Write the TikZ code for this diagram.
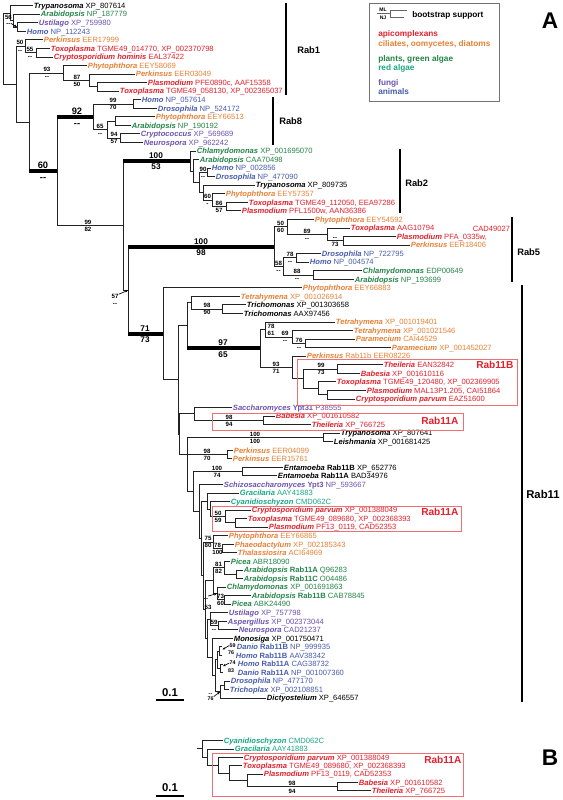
\documentclass[tikz,border=0pt]{standalone}
\usepackage{fontspec}
\setmainfont{Liberation Sans}
\usetikzlibrary{arrows.meta}
\definecolor{apic}{RGB}{228,32,44}
\definecolor{cil}{RGB}{232,128,52}
\definecolor{pla}{RGB}{36,132,72}
\definecolor{ral}{RGB}{24,168,128}
\definecolor{fun}{RGB}{108,82,176}
\definecolor{ani}{RGB}{72,92,172}
\definecolor{boxr}{RGB}{238,112,112}
\definecolor{brc}{RGB}{35,35,35}
\newcount\bsn
\def\bsgap{0.8pt}
\newcommand\Y[1]{5.7+8.55*(#1)}
\newcommand\YB[1]{740.7+8.35*(#1)}
\newcommand\G[1]{\textbf{\textit{#1}}}
\newcommand\Lf[6]{\node[leaf,text=#2] (#1) at (#3,{\Y{#4}}) {\G{#5} #6};}
\newcommand\LfB[6]{\node[leaf,text=#2] (#1) at (#3,{\YB{#4}}) {\G{#5} #6};}
\newcommand\Nd[3]{\coordinate (#1) at (#2,{\Y{#3}});}
\newcommand\NdB[3]{\coordinate (#1) at (#2,{\YB{#3}});}
\newcommand\E[2]{\draw[br] (#1) |- (#2);}
\newcommand\TE[2]{\draw[br] (#1) |- (#2); \draw[thk] (#2 -| #1) -- (#2);}
\newcommand\BS[5]{\global\advance\bsn by 1\relax
  \node[bsl,#5,anchor=south,yshift=\bsgap] (ba\the\bsn) at (#1,{\Y{#2}}) {#3};
  \node[bsl,#5,anchor=north,yshift=-\bsgap] (bb\the\bsn) at (#1,{\Y{#2}}) {#4};}
\newcommand\BA[5]{\node[bsl,#5] (#1) at (#2,#3) {#4};}
\tikzset{
  br/.style={draw=brc, line width=0.75pt},
  thk/.style={draw=black, line width=3pt},
  leaf/.style={anchor=west, inner xsep=0.7pt, inner ysep=0pt, outer sep=0pt,
    text height=4.1pt, text depth=0pt, font=\fontsize{5.7}{6}\selectfont},
  bsgap/.store in=\bsgap,
  bsl/.style={inner sep=0pt, text height=3.3pt, text depth=0pt,
    font=\fontsize{4.6}{5}\selectfont\bfseries},
  bsm/.style={text height=4.5pt, font=\fontsize{6.2}{7}\selectfont\bfseries},
  bsbig/.style={text height=5pt, font=\fontsize{7}{8}\selectfont\bfseries},
  bst/.style={text height=2.9pt, font=\fontsize{4}{4}\selectfont\bfseries},
  rab/.style={anchor=west, inner sep=0pt, font=\fontsize{7}{8}\selectfont\bfseries},
  bar/.style={line width=1.5pt},
  clbox/.style={draw=boxr, line width=0.6pt},
  boxlab/.style={anchor=west, inner sep=0pt, text=apic, font=\fontsize{7.6}{8}\selectfont\bfseries},
  ptr/.style={line width=0.5pt, -{Stealth[length=2.2pt,width=1.8pt]}},
  leg/.style={anchor=west, inner sep=0pt, font=\fontsize{6.2}{7}\selectfont\bfseries},
  legl/.style={draw=black!60, line width=0.6pt},
  big/.style={inner sep=0pt, font=\fontsize{17}{17}\selectfont\bfseries},
}
\begin{document}
\begin{tikzpicture}[x=0.75pt,y=-0.75pt]
\useasboundingbox[fill=white] (0,0) rectangle (563,800);

% ---------------- leaves A ----------------
\Lf{l0}{black}{33}{0}{Trypanosoma}{XP\_807614}
\Lf{l1}{pla}{40}{1}{Arabidopsis}{NP\_187779}
\Lf{l2}{fun}{38}{2}{Ustilago}{XP\_759980}
\Lf{l3}{ani}{26}{3}{Homo}{NP\_112243}
\Lf{l4}{cil}{43}{4}{Perkinsus}{EER17999}
\Lf{l5}{apic}{50}{5}{Toxoplasma}{TGME49\_014770, XP\_002370798}
\Lf{l6}{apic}{53}{6}{Cryptosporidium hominis}{EAL37422}
\Lf{l7}{cil}{87}{7}{Phytophthora}{EEY58069}
\Lf{l8}{cil}{135}{8}{Perkinsus}{EER03049}
\Lf{l9}{apic}{147}{9}{Plasmodium}{PFE0890c, AAF15358}
\Lf{l10}{apic}{119}{10}{Toxoplasma}{TGME49\_058130, XP\_002365037}
\Lf{l11}{ani}{141}{11}{Homo}{NP\_057614}
\Lf{l12}{ani}{157}{12}{Drosophila}{NP\_524172}
\Lf{l13}{cil}{155}{13}{Phytophthora}{EEY66513}
\Lf{l14}{pla}{131}{14}{Arabidopsis}{NP\_190192}
\Lf{l15}{fun}{140}{15}{Cryptococcus}{XP\_569689}
\Lf{l16}{fun}{143}{16}{Neurospora}{XP\_962242}
\Lf{l17}{pla}{196}{17}{Chlamydomonas}{XP\_001695070}
\Lf{l18}{pla}{199}{18}{Arabidopsis}{CAA70498}
\Lf{l19}{ani}{211}{19}{Homo}{NP\_002856}
\Lf{l20}{ani}{215}{20}{Drosophila}{NP\_477090}
\Lf{l21}{black}{255}{21}{Trypanosoma}{XP\_809735}
\Lf{l22}{cil}{225}{22}{Phytophthora}{EEY57357}
\Lf{l23}{apic}{248}{23}{Toxoplasma}{TGME49\_112050, EEA97286}
\Lf{l24}{apic}{241}{24}{Plasmodium}{PFL1500w, AAN36386}
\Lf{l25}{cil}{314}{25}{Phytophthora}{EEY54592}
\Lf{l26}{apic}{350}{26}{Toxoplasma}{AAG10794}
\Lf{l27}{apic}{396}{27}{Plasmodium}{PFA\_0335w,}
\node[leaf,text=apic] (cad) at (472,{\Y{26.1}}) {CAD49027};
\Lf{l28}{cil}{410}{28}{Perkinsus}{EER18406}
\Lf{l29}{ani}{321}{29}{Drosophila}{NP\_722795}
\Lf{l30}{ani}{309}{30}{Homo}{NP\_004574}
\Lf{l31}{pla}{362}{31}{Chlamydomonas}{EDP00649}
\Lf{l32}{pla}{354}{32}{Arabidopsis}{NP\_193699}
\Lf{l33}{cil}{302}{33}{Phytophthora}{EEY66883}
\Lf{l34}{cil}{240}{34}{Tetrahymena}{XP\_001026914}
\Lf{l35}{black}{246}{35}{Trichomonas}{XP\_001303658}
\Lf{l36}{black}{243}{36}{Trichomonas}{AAX97456}
\Lf{l37}{cil}{335}{37}{Tetrahymena}{XP\_001019401}
\Lf{l38}{cil}{353}{38}{Tetrahymena}{XP\_001021546}
\Lf{l39}{cil}{355}{39}{Paramecium}{CAI44529}
\Lf{l40}{cil}{391}{40}{Paramecium}{XP\_001452027}
\Lf{l41}{cil}{306}{41}{Perkinsus}{Rab11b EER08226}
\Lf{l42}{apic}{383}{42}{Theileria}{EAN32842}
\Lf{l43}{apic}{360}{43}{Babesia}{XP\_001610116}
\Lf{l44}{apic}{336}{44}{Toxoplasma}{TGME49\_120480, XP\_002369905}
\Lf{l45}{apic}{366}{45}{Plasmodium}{MAL13P1.205, CAI51864}
\Lf{l46}{apic}{355}{46}{Cryptosporidium parvum}{EAZ51600}
\Lf{l47}{fun}{232}{47}{Saccharomyces}{\textbf{Ypt31} P38555}
\Lf{l48}{apic}{275}{48}{Babesia}{XP\_001610582}
\Lf{l49}{apic}{311}{49}{Theileria}{XP\_766725}
\Lf{l50}{black}{340}{50}{Trypanosoma}{XP\_807641}
\Lf{l51}{black}{333}{51}{Leishmania}{XP\_001681425}
\Lf{l52}{cil}{233}{52}{Perkinsus}{EER04099}
\Lf{l53}{cil}{232}{53}{Perkinsus}{EER15761}
\Lf{l54}{black}{283}{54}{Entamoeba}{\textbf{Rab11B} XP\_652776}
\Lf{l55}{black}{277}{55}{Entamoeba}{\textbf{Rab11A} BAD34976}
\Lf{l56}{fun}{223}{56}{Schizosaccharomyces}{\textbf{Ypt3} NP\_593667}
\Lf{l57}{ral}{239}{57}{Gracilaria}{AAY41883}
\Lf{l58}{ral}{230}{58}{Cyanidioschyzon}{CMD062C}
\Lf{l59}{apic}{251}{59}{Cryptosporidium parvum}{XP\_001388049}
\Lf{l60}{apic}{247}{60}{Toxoplasma}{TGME49\_089680, XP\_002368393}
\Lf{l61}{apic}{268}{61}{Plasmodium}{PF13\_0119, CAD52353}
\Lf{l62}{cil}{228}{62}{Phytophthora}{EEY66865}
\Lf{l63}{cil}{234}{63}{Phaeodactylum}{XP\_002185343}
\Lf{l64}{cil}{237}{64}{Thalassiosira}{ACI64969}
\Lf{l65}{pla}{230}{65}{Picea}{ABR18090}
\Lf{l66}{pla}{243}{66}{Arabidopsis}{\textbf{Rab11A} Q96283}
\Lf{l67}{pla}{243}{67}{Arabidopsis}{\textbf{Rab11C} O04486}
\Lf{l68}{pla}{226}{68}{Chlamydomonas}{XP\_001691863}
\Lf{l69}{pla}{251}{69}{Arabidopsis}{\textbf{Rab11B} CAB78845}
\Lf{l70}{pla}{231}{70}{Picea}{ABK24490}
\Lf{l71}{fun}{228}{71}{Ustilago}{XP\_757798}
\Lf{l72}{fun}{227}{72}{Aspergillus}{XP\_002373044}
\Lf{l73}{fun}{238}{73}{Neurospora}{CAD21237}
\Lf{l74}{black}{233}{74}{Monosiga}{XP\_001750471}
\Lf{l75}{ani}{236}{75}{Danio}{\textbf{Rab11B} NP\_999935}
\Lf{l76}{ani}{235}{76}{Homo}{\textbf{Rab11B} AAV38342}
\Lf{l77}{ani}{237}{77}{Homo}{\textbf{Rab11A} CAG38732}
\Lf{l78}{ani}{237}{78}{Danio}{\textbf{Rab11A} NP\_001007360}
\Lf{l79}{ani}{230}{79}{Drosophila}{NP\_477170}
\Lf{l80}{ani}{229}{80}{Trichoplax}{XP\_002108851}
\Lf{l81}{black}{266}{81}{Dictyostelium}{XP\_646557}

% ---------------- internal nodes A ----------------
\Nd{nR}{3}{5.03}
\Nd{nT}{10}{0.875}
\Nd{n1}{13}{1.75}
\Nd{n56}{17}{2.5}
\Nd{nY}{16}{9.19}
\Nd{n50}{25}{4.75}
\Nd{n55}{36}{5.5}
\Nd{n29}{29}{13.62}
\Nd{n93}{63}{7.875}
\Nd{n87}{89}{8.75}
\Nd{nPT}{97}{9.5}
\Nd{n57}{57}{19.37}
\Nd{n92}{93}{13}
\Nd{n99}{133}{11.5}
\Nd{n65}{107}{14.5}
\Nd{nPA}{115}{13.5}
\Nd{n94}{120}{15.5}
\Nd{n123}{123}{25.73}
\Nd{n190}{190}{18.17}
\Nd{nAr2}{193}{19.34}
\Nd{nB}{199}{20.69}
\Nd{n90}{207}{19.5}
\Nd{nC}{203}{21.875}
\Nd{n60}{212}{22.75}
\Nd{n86}{226}{23.5}
\Nd{n128}{128}{33.29}
\Nd{n274}{274}{28.19}
\Nd{nP}{287}{25.875}
\Nd{n89}{327}{26.75}
\Nd{nQ}{343}{27.5}
\Nd{n58}{283}{30.5}
\Nd{n78}{296}{29.5}
\Nd{n88}{313}{31.5}
\Nd{n163}{163}{38.385}
\Nd{n178}{178}{43.77}
\Nd{n187}{187}{37.42}
\Nd{nTT}{191}{34.75}
\Nd{nTr}{222}{35.5}
\Nd{n260}{260}{40.09}
\Nd{n78b}{265}{37.875}
\Nd{n69}{292}{38.75}
\Nd{n76}{305}{39.5}
\Nd{n93b}{292}{42.31}
\Nd{nA1}{303}{43.625}
\Nd{n99b}{337}{42.5}
\Nd{nB1}{318}{44.75}
\Nd{nC1}{327}{45.5}
\Nd{n179}{179}{50.125}
\Nd{n194}{194}{47.75}
\Nd{n98b}{263}{48.5}
\Nd{n187c}{187}{52.5}
\Nd{n100t}{323}{50.5}
\Nd{n98p}{227}{52.5}
\Nd{nK5}{193}{56.83}
\Nd{n100e}{242}{54.5}
\Nd{nK4}{199}{59.16}
\Nd{nK3}{201}{62.31}
\Nd{nG}{207}{57.94}
\Nd{n210}{210}{58.875}
\Nd{n225}{225}{59.75}
\Nd{n235}{235}{60.5}
\Nd{nK2}{203}{66.68}
\Nd{n75}{213}{62.75}
\Nd{n78d}{222}{63.5}
\Nd{nK1}{205}{70.61}
\Nd{nPl}{213}{67.25}
\Nd{n81}{224}{65.75}
\Nd{nAr}{236}{66.5}
\Nd{nCh}{217}{68.75}
\Nd{n73}{224}{69.5}
\Nd{nOpi}{207}{73.97}
\Nd{nFu}{210}{71.75}
\Nd{nAN}{218}{72.5}
\Nd{nHol}{212}{76.19}
\Nd{nMet}{215}{78.375}
\Nd{nV}{217}{76.5}
\Nd{nDH}{219}{75.5}
\Nd{nHD}{220}{77.5}
\Nd{n76b}{220}{80.25}
\Nd{nDT}{224}{79.5}
\Nd{t75}{222}{75}
\Nd{t76}{222}{76}
\Nd{t77}{222.5}{77}
\Nd{t78}{222.5}{78}
\Nd{a75}{222.5}{75.3}
\Nd{a77}{223}{77.25}

% ---------------- branches A ----------------
\E{nR}{nT} \E{nR}{nY}
\E{nT}{l0.west} \E{nT}{n1}
\E{n1}{l1.west} \E{n1}{n56}
\E{n56}{l2.west} \E{n56}{l3.west}
\E{nY}{n50} \E{nY}{n29}
\E{n50}{l4.west} \E{n50}{n55}
\E{n55}{l5.west} \E{n55}{l6.west}
\E{n29}{n93} \TE{n29}{n57}
\E{n93}{l7.west} \E{n93}{n87}
\E{n87}{l8.west} \E{n87}{nPT}
\E{nPT}{l9.west} \E{nPT}{l10.west}
\TE{n57}{n92} \E{n57}{n123}
\E{n92}{n99} \E{n92}{n65}
\E{n99}{l11.west} \E{n99}{l12.west}
\E{n65}{nPA} \E{n65}{n94}
\E{nPA}{l13.west} \E{nPA}{l14.west}
\E{n94}{l15.west} \E{n94}{l16.west}
\TE{n123}{n190} \E{n123}{n128}
\E{n190}{l17.west} \E{n190}{nAr2}
\E{nAr2}{l18.west} \E{nAr2}{nB}
\E{nB}{n90} \E{nB}{nC}
\E{n90}{l19.west} \E{n90}{l20.west}
\E{nC}{l21.west} \E{nC}{n60}
\E{n60}{l22.west} \E{n60}{n86}
\E{n86}{l23.west} \E{n86}{l24.west}
\TE{n128}{n274} \TE{n128}{n163}
\E{n274}{nP} \E{n274}{n58}
\E{nP}{l25.west} \E{nP}{n89}
\E{n89}{l26.west} \E{n89}{nQ}
\E{nQ}{l27.west} \E{nQ}{l28.west}
\E{n58}{n78} \E{n58}{n88}
\E{n78}{l29.west} \E{n78}{l30.west}
\E{n88}{l31.west} \E{n88}{l32.west}
\E{n163}{l33.west} \E{n163}{n178}
\E{n178}{n187} \E{n178}{n179}
\E{n187}{nTT} \TE{n187}{n260}
\E{nTT}{l34.west} \E{nTT}{nTr}
\E{nTr}{l35.west} \E{nTr}{l36.west}
\E{n260}{n78b} \E{n260}{n93b}
\E{n78b}{l37.west} \E{n78b}{n69}
\E{n69}{l38.west} \E{n69}{n76}
\E{n76}{l39.west} \E{n76}{l40.west}
\E{n93b}{l41.west} \E{n93b}{nA1}
\E{nA1}{n99b} \E{nA1}{nB1}
\E{n99b}{l42.west} \E{n99b}{l43.west}
\E{nB1}{l44.west} \E{nB1}{nC1}
\E{nC1}{l45.west} \E{nC1}{l46.west}
\E{n179}{n194} \E{n179}{n187c}
\E{n194}{l47.west} \E{n194}{n98b}
\E{n98b}{l48.west} \E{n98b}{l49.west}
\E{n187c}{n100t} \E{n187c}{n98p} \E{n187c}{nK5}
\E{n100t}{l50.west} \E{n100t}{l51.west}
\E{n98p}{l52.west} \E{n98p}{l53.west}
\E{nK5}{n100e} \E{nK5}{nK4}
\E{n100e}{l54.west} \E{n100e}{l55.west}
\E{nK4}{l56.west} \E{nK4}{nK3}
\E{nK3}{nG} \E{nK3}{nK2}
\E{nG}{l57.west} \E{nG}{n210}
\E{n210}{l58.west} \E{n210}{n225}
\E{n225}{l59.west} \E{n225}{n235}
\E{n235}{l60.west} \E{n235}{l61.west}
\E{nK2}{n75} \E{nK2}{nK1}
\E{n75}{l62.west} \E{n75}{n78d}
\E{n78d}{l63.west} \E{n78d}{l64.west}
\E{nK1}{nPl} \E{nK1}{nOpi}
\E{nPl}{n81} \E{nPl}{nCh}
\E{n81}{l65.west} \E{n81}{nAr}
\E{nAr}{l66.west} \E{nAr}{l67.west}
\E{nCh}{l68.west} \E{nCh}{n73}
\E{n73}{l69.west} \E{n73}{l70.west}
\E{nOpi}{nFu} \E{nOpi}{nHol}
\E{nFu}{l71.west} \E{nFu}{nAN}
\E{nAN}{l72.west} \E{nAN}{l73.west}
\E{nHol}{l74.west} \E{nHol}{nMet}
\E{nMet}{nV} \E{nMet}{n76b}
\E{nV}{nDH} \E{nV}{nHD}
\E{nDH}{t75} \E{nDH}{t76}
\E{nHD}{t77} \E{nHD}{t78}
\E{n76b}{nDT} \E{n76b}{l81.west}
\E{nDT}{l79.west} \E{nDT}{l80.west}

% ---------------- bootstrap labels A ----------------
\BA{s56a}{8.5}{16.8}{56}{}
\BA{s56b}{8.5}{23.3}{-{}-}{}
\draw[ptr] (s56b.east) -- (n56);
\BS{20}{4.75}{50}{-{}-}{}
\BS{30}{5.5}{55}{-{}-}{}
\BS{47}{7.875}{93}{-{}-}{}
\BS{77}{8.75}{87}{50}{}
\BS{77}{13}{92}{-{}-}{bsbig,bsgap=1.8pt}
\BS{113}{11.5}{99}{70}{}
\BS{100}{14.5}{65}{-{}-}{}
\BS{114}{15.5}{94}{57}{}
\BS{43}{19.37}{60}{-{}-}{bsbig,bsgap=1.8pt}
\BS{88}{25.73}{99}{82}{}
\BS{156}{18.17}{100}{53}{bsm,bsgap=1.8pt}
\BS{203}{19.5}{90}{-{}-}{}
\BS{207.5}{22.75}{60}{-}{}
\BS{219}{23.5}{86}{57}{}
\BS{201}{28.19}{100}{98}{bsm,bsgap=1.8pt}
\BS{280.5}{25.875}{50}{60}{}
\BS{307}{26.75}{89}{-{}-}{}
\BS{335}{27.5}{-{}-}{73}{}
\BS{290}{29.5}{78}{-{}-}{}
\BS{278.5}{30.5}{58}{-{}-}{}
\BS{297}{31.5}{88}{-{}-}{}
\BA{s57a}{115}{296.7}{57}{}
\BA{s57b}{115}{303.3}{-{}-}{}
\draw[ptr] (s57a.north east) -- (n128);
\BS{145}{38.385}{71}{73}{bsm,bsgap=1.8pt}
\BS{207}{35.5}{98}{90}{}
\BS{223}{40.09}{97}{65}{bsm,bsgap=1.8pt}
\BS{271}{37.875}{78}{61}{}
\BS{285}{38.75}{69}{-{}-}{}
\BS{299}{39.5}{76}{-{}-}{}
\BS{276}{42.31}{93}{71}{}
\BS{321}{42.5}{99}{73}{}
\BS{229}{48.5}{98}{94}{}
\BS{255}{50.5}{100}{100}{}
\BS{207}{52.5}{98}{70}{}
\BS{217}{54.5}{100}{74}{}
\BS{218}{59.75}{50}{59}{}
\BS{208}{62.75}{75}{80}{}
\BS{217.5}{63.5}{78}{100}{}
\BS{218.5}{65.75}{81}{82}{}
\BS{220.5}{69.5}{73}{60}{}
\BA{s53a}{206}{598.5}{-{}-}{}
\BA{s53b}{208}{607}{53}{}
\draw[ptr] (s53a.north east) -- (nCh);
\BS{214}{72.5}{59}{-{}-}{}
\BA{s59a}{232.5}{645.5}{59}{bst}
\BA{s59b}{231}{653}{76}{bst}
\draw[ptr] (s59a.west) -- (a75);
\BA{s74a}{232.5}{663}{74}{bst}
\BA{s74b}{231}{670.5}{83}{bst}
\draw[ptr] (s74a.west) -- (a77);
\BA{s76a}{210.5}{693.3}{-{}-}{bst}
\BA{s76b}{210.5}{698.8}{76}{bst}
\draw[ptr] (s76b.north east) -- (n76b);

% ---------------- clade boxes ----------------
\draw[clbox] (297,359.3) rectangle (517,405);
\node[boxlab] (b11b) at (476,{\Y{41.95}}) {Rab11B};
\draw[clbox] (212,413.3) rectangle (463,430);
\node[boxlab] (b11a1) at (421,421) {Rab11A};
\draw[clbox] (212,506.7) rectangle (461,531);
\node[boxlab] (b11a2) at (421,512) {Rab11A};

% ---------------- Rab bars ----------------
\draw[bar] (286,3) -- (286,95);   \node[rab] (r1) at (297,50) {Rab1};
\draw[bar] (273,97) -- (273,145); \node[rab] (r8) at (279,121) {Rab8};
\draw[bar] (400,149) -- (400,213); \node[rab] (r2) at (405,183) {Rab2};
\draw[bar] (512,217) -- (512,282); \node[rab] (r5) at (517,252) {Rab5};
\draw[bar] (522,285) -- (522,701.7);
\node[rab,font=\fontsize{8.5}{9}\selectfont\bfseries] (r11) at (526,494) {Rab11};

% ---------------- legend ----------------
\draw[draw=black!55, line width=0.6pt] (369,3.3) rectangle (499,101);
\node[inner sep=0pt, font=\fontsize{3.8}{4}\selectfont\bfseries] (ml) at (383,9.6) {ML};
\node[inner sep=0pt, font=\fontsize{3.8}{4}\selectfont\bfseries] (nj) at (383,18.2) {NJ};
\draw[legl] (377,13.8) -- (390,13.8);
\draw[legl] (407,10) -- (390,10) -- (390,17.4) -- (404,17.4);
\node[leg] (bsup) at (412,15.3) {bootstrap support};
\node[leg,text=apic] (g1) at (378,34) {apicomplexans};
\node[leg,text=cil] (g2) at (378,44) {ciliates, oomycetes, diatoms};
\node[leg,text=pla] (g3) at (378,59) {plants, green algae};
\node[leg,text=ral] (g4) at (378,68.7) {red algae};
\node[leg,text=fun] (g5) at (378,83.3) {fungi};
\node[leg,text=ani] (g6) at (378,92) {animals};
\node[big] (pA) at (550,21) {A};

% ---------------- scale A ----------------
\draw[line width=1.5pt] (156,700) -- (184,700);
\node[inner sep=0pt, font=\fontsize{8.5}{9}\selectfont\bfseries] (scA) at (170,692.2) {0.1};

% ---------------- panel B ----------------
\LfB{m0}{ral}{223}{0}{Cyanidioschyzon}{CMD062C}
\LfB{m1}{ral}{234}{1}{Gracilaria}{AAY41883}
\LfB{m2}{apic}{243}{2}{Cryptosporidium parvum}{XP\_001388049}
\LfB{m3}{apic}{242}{3}{Toxoplasma}{TGME49\_089680, XP\_002368393}
\LfB{m4}{apic}{263}{4}{Plasmodium}{PF13\_0119, CAD52353}
\LfB{m5}{apic}{358}{5}{Babesia}{XP\_001610582}
\LfB{m6}{apic}{371}{6}{Theileria}{XP\_766725}
\NdB{stubB}{197}{0.985}
\NdB{nB0}{202}{0.985}
\NdB{nB1}{207}{1.97}
\NdB{nB2}{218}{2.94}
\NdB{nB3}{229}{3.875}
\NdB{nB4}{247}{4.75}
\NdB{nBT}{337}{5.5}
\draw[br] (stubB) -- (nB0);
\E{nB0}{m0.west} \E{nB0}{nB1}
\E{nB1}{m1.west} \E{nB1}{nB2}
\E{nB2}{m2.west} \E{nB2}{nB3}
\E{nB3}{m3.west} \E{nB3}{nB4}
\E{nB4}{m4.west} \E{nB4}{nBT}
\E{nBT}{m5.west} \E{nBT}{m6.west}
\BA{sb98}{292}{783.6}{98}{}
\BA{sb94}{292}{791.2}{94}{}
\draw[clbox] (212,753.3) rectangle (463,796.7);
\node[boxlab] (b11aB) at (424,760) {Rab11A};
\node[big] (pB) at (550,758) {B};
\draw[line width=1.5pt] (156,795.7) -- (184,795.7);
\node[inner sep=0pt, font=\fontsize{8.5}{9}\selectfont\bfseries] (scB) at (170,787.2) {0.1};
\end{tikzpicture}
\end{document}
